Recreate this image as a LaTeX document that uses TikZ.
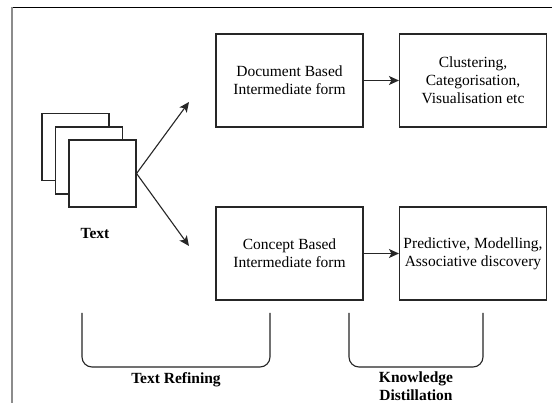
\documentclass[tikz,border=0pt]{standalone}
\usepackage{fontspec}
\setmainfont{Liberation Serif}
\usetikzlibrary{arrows.meta}
\begin{document}
\begin{tikzpicture}[x=1pt,y=-1pt,
  every node/.style={font=\fontsize{15.5}{18}\selectfont},
  stage/.style={draw=black!85, line width=1.1pt, minimum width=147pt, minimum height=93pt, align=center, inner sep=1pt},
  page/.style={draw=black!85, fill=white, line width=1.1pt, minimum width=67pt, minimum height=67pt, inner sep=0pt},
  flow/.style={line width=1.1pt, draw=black!85, -{Stealth[length=10pt,width=9pt,inset=2.5pt]}},
  brace/.style={line width=1.1pt, draw=black!85, rounded corners=10pt},
  caption/.style={font=\fontsize{15.5}{17.5}\selectfont\bfseries, align=center}]
  \useasboundingbox (0,0) rectangle (552,403);
  \fill[white] (0,0) rectangle (552,403);

  % outer frame (top and left edges)
  \draw[black, line width=1.2pt] (11,7.5) -- (552,7.5);
  \draw[black!45, line width=2pt] (12,7.5) -- (12,403);

  % stack of documents
  \node[page] (p1) at (75.5,147) {};
  \node[page] (p2) at (89,160.5) {};
  \node[page] (p3) at (102.5,173.5) {};
  \node[caption] (txt) at (95,234) {Text};

  % processing stages
  \node[stage] (doc) at (289.5,80.5) {Document Based\\Intermediate form};
  \node[stage] (clu) at (473,80.5) {Clustering,\\Categorisation,\\Visualisation etc};
  \node[stage] (con) at (289.5,253.5) {Concept Based\\Intermediate form};
  \node[stage] (pre) at (473,253.5) {Predictive, Modelling,\\Associative discovery};

  % fan-out from the documents
  \coordinate (up) at (189,102);
  \coordinate (dn) at (189,246);
  \draw[flow] (p3.east) -- (up);
  \draw[flow] (p3.east) -- (dn);
  \draw[flow] (doc.east) -- (clu.west);
  \draw[flow] (con.east) -- (pre.west);

  % grouping brackets
  \coordinate (r1a) at (82,313);
  \coordinate (r1m) at (176,367);
  \coordinate (r1b) at (270,313);
  \draw[brace] (r1a) |- (r1m) -| (r1b);
  \node[caption] (ref) at (176,380) {Text Refining};

  \coordinate (r2a) at (349,313);
  \coordinate (r2m) at (416,367);
  \coordinate (r2b) at (483,313);
  \draw[brace] (r2a) |- (r2m) -| (r2b);
  \node[caption, inner sep=1pt] (kd) at (416,386) {Knowledge\\Distillation};
\end{tikzpicture}
\end{document}
